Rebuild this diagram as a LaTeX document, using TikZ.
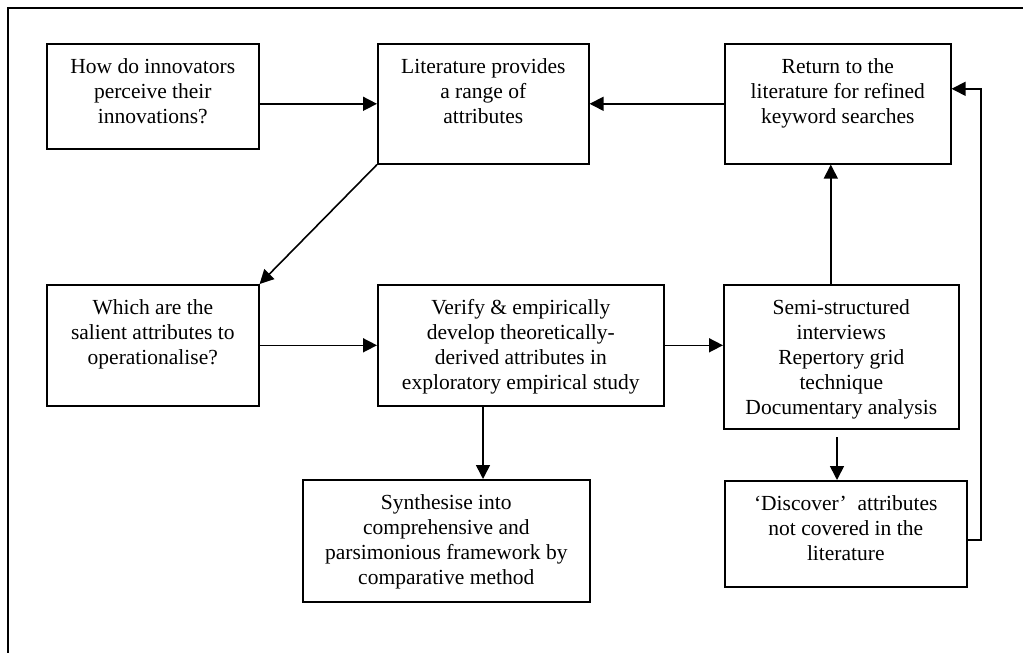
\documentclass[tikz,border=0pt]{standalone}
\usepackage{fontspec}
\setmainfont{Liberation Serif}
\usetikzlibrary{arrows.meta}
\newcommand\bxt[3]{\parbox[t][#2][t]{#1}{\centering\fontsize{21.5pt}{25pt}\selectfont\rule{0pt}{30pt}#3}}
\tikzset{
  bx/.style={draw, line width=1.6pt, inner sep=0pt, anchor=north west},
  arr/.style={line width=1.6pt, -{Triangle[length=14pt,width=14pt]}},
  ln/.style={line width=1.6pt}
}
\begin{document}
\begin{tikzpicture}[x=1pt,y=-1pt]
\useasboundingbox (0,0) rectangle (1023,653);
\coordinate (ftl) at (8,8);
\coordinate (ftr) at (1030,8);
\coordinate (fbl) at (8,660);
\draw[ln] (fbl) -- (ftl) -- (ftr);
\node[bx] (A) at (46,43) {\bxt{212pt}{105pt}{How do innovators\\perceive their\\innovations?}};
\node[bx] (B) at (377,43) {\bxt{211pt}{120pt}{Literature provides\\a range of\\attributes}};
\node[bx] (C) at (724,43) {\bxt{226pt}{120pt}{Return to the\\literature for refined\\keyword searches}};
\node[bx] (D) at (46,284) {\bxt{212pt}{121pt}{Which are the\\salient attributes to\\operationalise?}};
\node[bx] (E) at (377,284) {\bxt{286pt}{121pt}{Verify \& empirically\\develop theoretically-\\derived attributes in\\exploratory empirical study}};
\node[bx] (F) at (723,284) {\bxt{235pt}{144pt}{Semi-structured\\interviews\\Repertory grid\\technique\\Documentary analysis}};
\node[bx] (G) at (724,480) {\bxt{242pt}{106pt}{‘Discover’\ \ attributes\\not covered in the\\literature}};
\node[bx] (H) at (302,479) {\bxt{287pt}{122pt}{Synthesise into\\comprehensive and\\parsimonious framework by\\comparative method}};
\draw[arr] (A.east |- B.west) -- (B.west);
\draw[arr] (C.west) -- (B.east);
\draw[arr] (B.south west) -- (D.north east);
\draw[arr] (D.east) -- (E.west);
\draw[arr] (E.east) -- (E.east -| F.west);
\draw[arr] ([xshift=-7pt]F.north -| C.south) -- ([xshift=-7pt]C.south);
\coordinate (fg) at (837,437);
\draw[arr] (fg) -- (fg |- G.north);
\coordinate (eh) at (483,405);
\draw[arr] (eh) -- (eh |- H.north);
\coordinate (loop) at (981,540);
\draw[arr] (G.east |- loop) -- (loop) |- ([yshift=15pt]C.east);
\end{tikzpicture}
\end{document}
